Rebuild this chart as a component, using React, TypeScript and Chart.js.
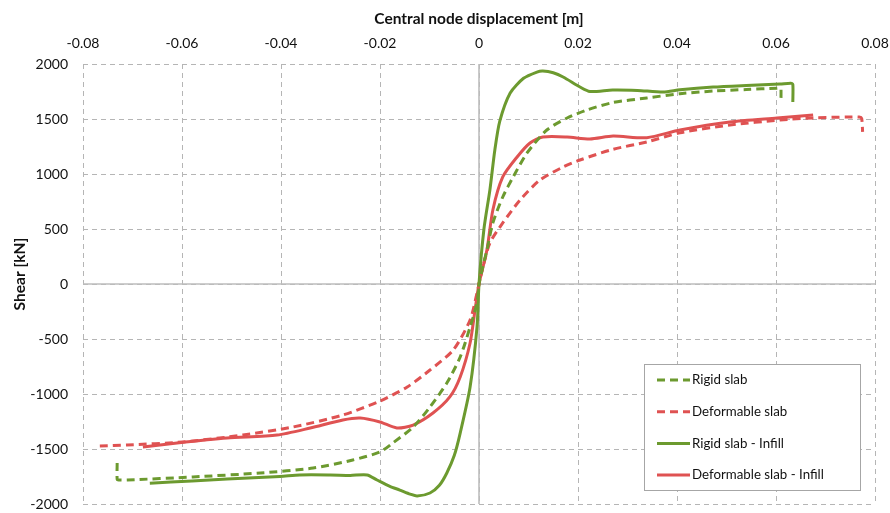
import { useEffect, useRef } from "react";
import { Chart, registerables } from "chart.js";
Chart.register(...registerables);

const xTitle = "Central node displacement [m]";
const yTitle = "Shear [kN]";
const seriesNames = ["Rigid slab", "Deformable slab", "Rigid slab - Infill", "Deformable slab - Infill"];

const rigidX = [-0.0731, -0.0731, -0.0728, -0.0711, -0.0578, -0.0442, -0.0335, -0.0255, -0.02, -0.0174, -0.0133, -0.0099, -0.0065, -0.0038, -0.0018, -0.0004, 0, 0.0016, 0.0028, 0.0048, 0.0069, 0.0097, 0.0137, 0.0178, 0.0218, 0.0271, 0.0339, 0.0406, 0.0473, 0.054, 0.0602, 0.0608, 0.061, 0.061];
const rigidY = [-1627, -1775, -1782, -1782, -1754, -1718, -1673, -1600, -1527, -1445, -1300, -1118, -900, -664, -391, -173, 0, 309, 555, 791, 973, 1191, 1400, 1509, 1582, 1650, 1691, 1730, 1754, 1768, 1780, 1782, 1775, 1654];

const deformX = [-0.0766, -0.0711, -0.0598, -0.0477, -0.0376, -0.0275, -0.02, -0.0145, -0.0099, -0.0052, -0.0018, -0.0004, 0, 0.0008, 0.0022, 0.0048, 0.0083, 0.0123, 0.017, 0.0204, 0.0271, 0.0339, 0.0406, 0.0507, 0.0608, 0.0675, 0.0743, 0.0768, 0.0773, 0.0775];
const deformY = [-1473, -1464, -1436, -1373, -1300, -1191, -1064, -936, -782, -600, -327, -82, 0, 155, 373, 555, 764, 945, 1064, 1127, 1225, 1291, 1375, 1445, 1491, 1510, 1518, 1518, 1505, 1382];

const rigidInfillX = [-0.0665, -0.058, -0.0509, -0.0402, -0.0362, -0.03, -0.026, -0.0226, -0.0206, -0.018, -0.016, -0.0139, -0.0125, -0.0099, -0.008, -0.0065, -0.005, -0.0038, -0.0018, -0.0004, 0, 0.001, 0.0022, 0.0032, 0.0042, 0.0063, 0.009, 0.0117, 0.0129, 0.015, 0.017, 0.0204, 0.0224, 0.027, 0.032, 0.0372, 0.0406, 0.0473, 0.054, 0.0608, 0.063, 0.0634, 0.0634];
const rigidInfillY = [-1812, -1790, -1773, -1750, -1736, -1736, -1740, -1736, -1782, -1840, -1873, -1910, -1927, -1900, -1830, -1718, -1560, -1355, -936, -390, 0, 500, 855, 1218, 1480, 1736, 1870, 1927, 1936, 1920, 1882, 1791, 1750, 1764, 1760, 1745, 1765, 1790, 1805, 1818, 1826, 1815, 1654];

const deformInfillX = [-0.0679, -0.061, -0.0509, -0.0408, -0.0341, -0.0275, -0.024, -0.02, -0.0166, -0.0133, -0.0093, -0.0059, -0.0038, -0.0018, -0.0008, 0, 0.0016, 0.0028, 0.0048, 0.0077, 0.0103, 0.0129, 0.0178, 0.0224, 0.0271, 0.0339, 0.0406, 0.0507, 0.0602, 0.0675];
const deformInfillY = [-1482, -1445, -1400, -1373, -1309, -1236, -1218, -1254, -1309, -1282, -1173, -1027, -845, -536, -236, 0, 309, 673, 973, 1155, 1282, 1336, 1336, 1318, 1345, 1330, 1400, 1473, 1509, 1536];

const GREEN = "#6C9A2F";
const RED = "#DF5252";
const FONT = "Lato, 'Open Sans', sans-serif";

const pts = (xs: number[], ys: number[]) => xs.map((x, i) => ({ x, y: ys[i] }));

const zeroLines = {
  id: "zeroLines",
  beforeDatasetsDraw(chart: any) {
    const { ctx, chartArea, scales } = chart;
    const x0 = scales.x.getPixelForValue(0);
    const y0 = scales.y.getPixelForValue(0);
    ctx.save();
    ctx.strokeStyle = "#BDBDBD";
    ctx.lineWidth = 1.6;
    ctx.setLineDash([]);
    ctx.beginPath();
    ctx.moveTo(x0, chartArea.top);
    ctx.lineTo(x0, chartArea.bottom);
    ctx.moveTo(chartArea.left, y0);
    ctx.lineTo(chartArea.right, y0);
    ctx.stroke();
    ctx.restore();
  },
};

const yTitlePlugin = {
  id: "yTitlePlugin",
  afterDraw(chart: any) {
    const { ctx, chartArea } = chart;
    ctx.save();
    ctx.translate(20, (chartArea.top + chartArea.bottom) / 2 - 10);
    ctx.rotate(-Math.PI / 2);
    ctx.fillStyle = "#111111";
    ctx.font = `bold 15.5px ${FONT}`;
    ctx.textAlign = "center";
    ctx.textBaseline = "middle";
    ctx.fillText(yTitle, 0, 0);
    ctx.restore();
  },
};

const boxLegend = {
  id: "boxLegend",
  afterDraw(chart: any) {
    const { ctx, chartArea } = chart;
    const w = 216, h = 126;
    const right = chartArea.right - 15;
    const bottom = chartArea.bottom - 14;
    const left = right - w;
    const top = bottom - h;
    ctx.save();
    ctx.fillStyle = "#FFFFFF";
    ctx.fillRect(left, top, w, h);
    ctx.strokeStyle = "#A6A6A6";
    ctx.lineWidth = 1;
    ctx.setLineDash([]);
    ctx.strokeRect(left + 0.5, top + 0.5, w, h);
    chart.data.datasets.forEach((ds: any, i: number) => {
      const yy = top + 16 + i * 31.7;
      ctx.strokeStyle = ds.borderColor;
      ctx.lineWidth = ds.borderWidth;
      ctx.setLineDash(ds.borderDash || []);
      ctx.beginPath();
      ctx.moveTo(left + 13, yy);
      ctx.lineTo(left + 46, yy);
      ctx.stroke();
      ctx.setLineDash([]);
      ctx.fillStyle = "#111111";
      ctx.font = `13.3px ${FONT}`;
      ctx.textBaseline = "middle";
      ctx.textAlign = "left";
      ctx.fillText(ds.label, left + 48, yy);
    });
    ctx.restore();
  },
};

const noPad = (s: any) => {
  s.paddingLeft = 0;
  s.paddingRight = 0;
  s.paddingTop = 0;
  s.paddingBottom = 0;
};

export default function App() {
  const ref = useRef<HTMLCanvasElement>(null);
  useEffect(() => {
    if (!ref.current) return;
    const common = { showLine: true, pointRadius: 0, borderWidth: 3, tension: 0.25, fill: false };
    const chart = new Chart(ref.current, {
      type: "scatter",
      data: {
        datasets: [
          { ...common, label: seriesNames[0], data: pts(rigidX, rigidY), borderColor: GREEN, backgroundColor: GREEN, borderDash: [8, 5] },
          { ...common, label: seriesNames[1], data: pts(deformX, deformY), borderColor: RED, backgroundColor: RED, borderDash: [8, 5] },
          { ...common, label: seriesNames[2], data: pts(rigidInfillX, rigidInfillY), borderColor: GREEN, backgroundColor: GREEN },
          { ...common, label: seriesNames[3], data: pts(deformInfillX, deformInfillY), borderColor: RED, backgroundColor: RED },
        ],
      },
      options: {
        responsive: false,
        animation: false,
        layout: { padding: { left: 0, top: 0, right: 15, bottom: 9 } },
        plugins: { legend: { display: false }, tooltip: { enabled: false } },
        scales: {
          x: {
            type: "linear",
            position: "top",
            min: -0.08,
            max: 0.08,
            afterFit: (s: any) => { s.height = 64; noPad(s); },
            ticks: {
              stepSize: 0.02,
              padding: 12,
              color: "#111111",
              font: { family: FONT, size: 14 },
              callback: (v: any) => (Math.abs(v) < 1e-9 ? "0" : Number(v).toFixed(2)),
            },
            grid: { color: "#B5B5B5", lineWidth: 1, drawTicks: false },
            border: { display: false, dash: [5, 4] },
            title: { display: true, text: xTitle, color: "#111111", font: { family: FONT, size: 15.5, weight: "bold" }, padding: { top: 10, bottom: 0 } },
          },
          y: {
            type: "linear",
            min: -2000,
            max: 2000,
            afterFit: (s: any) => { s.width = 83; noPad(s); },
            ticks: {
              stepSize: 500,
              padding: 15,
              color: "#111111",
              font: { family: FONT, size: 14 },
              callback: (v: any) => String(Math.round(Number(v))),
            },
            grid: { color: "#B5B5B5", lineWidth: 1, drawTicks: false },
            border: { display: false, dash: [5, 4] },
            title: { display: false },
          },
        },
      },
      plugins: [zeroLines, yTitlePlugin, boxLegend],
    } as any);
    return () => chart.destroy();
  }, []);
  return (
    <div style={{ position: "fixed", left: 0, top: 0, width: 890, height: 513, background: "#fff" }}>
      <canvas ref={ref} width={890} height={513} />
    </div>
  );
}
